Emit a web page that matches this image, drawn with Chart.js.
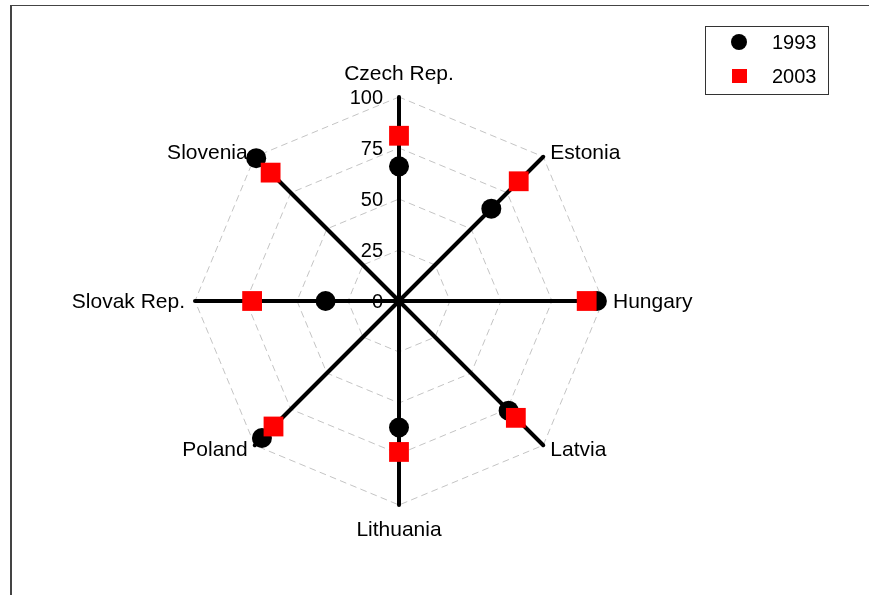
<!DOCTYPE html>
<html>
<head>
<script src="https://cdn.jsdelivr.net/npm/chart.js"></script>
<style>
  body { margin: 0; background: #fff; }
  #wrap { width: 869px; height: 595px; }
</style>
</head>

<body>
<div id="wrap">
  <canvas id="myChart" width="869" height="595"></canvas>
</div>

<script>
  const countries = ['Czech Rep.', 'Estonia', 'Hungary', 'Latvia', 'Lithuania', 'Poland', 'Slovak Rep.', 'Slovenia'];
  const values1993 = [66, 64, 97, 76, 62, 95, 36, 99];
  const values2003 = [81, 83, 92, 81, 74, 87, 72, 89];
  const tickValues = [0, 25, 50, 75, 100];
  const seriesNames = ['1993', '2003'];

  const FONT = "'Liberation Sans', Arial, sans-serif";

  // labels, ticks, legend and frame are drawn by hand
  const extras = {
    id: 'extras',
    beforeDraw(chart) {
      chart.ctx.lineCap = 'round';
    },
    afterDraw(chart) {
      const ctx = chart.ctx;
      const r = chart.scales.r;
      ctx.save();
      ctx.lineCap = 'butt';
      ctx.fillStyle = '#000';

      // tick labels
      ctx.font = '20px ' + FONT;
      ctx.textAlign = 'right';
      ctx.textBaseline = 'middle';
      tickValues.forEach(v => {
        const y = r.yCenter - r.getDistanceFromCenterForValue(v);
        ctx.fillText(String(v), r.xCenter - 16, y + 1);
      });

      // point labels
      ctx.font = '21px ' + FONT;
      countries.forEach((name, i) => {
        const a = r.getIndexAngle(i);
        const s = Math.sin(a), c = Math.cos(a);
        const p = r.getPointPosition(i, r.drawingArea + 10);
        let x = p.x, y = p.y;
        if (Math.abs(s) < 0.01) {
          ctx.textAlign = 'center';
          y += c > 0 ? -14 : 14;
        } else {
          ctx.textAlign = s > 0 ? 'left' : 'right';
          if (Math.abs(c) > 0.01) y += c > 0 ? 3 : -3;
        }
        ctx.fillText(name, x, y + 1);
      });

      // legend
      ctx.strokeStyle = '#333';
      ctx.lineWidth = 1;
      ctx.strokeRect(705.5, 26.5, 123, 68);
      ctx.fillStyle = '#000';
      ctx.beginPath();
      ctx.arc(739, 42, 8, 0, Math.PI * 2);
      ctx.fill();
      ctx.fillStyle = '#ff0000';
      ctx.fillRect(732, 69, 15, 14);
      ctx.fillStyle = '#000';
      ctx.font = '20px ' + FONT;
      ctx.textAlign = 'left';
      ctx.fillText(seriesNames[0], 772, 43);
      ctx.fillText(seriesNames[1], 772, 77);

      // frame
      ctx.strokeStyle = '#444';
      ctx.lineWidth = 2;
      ctx.beginPath();
      ctx.moveTo(11, 595);
      ctx.lineTo(11, 5.5);
      ctx.stroke();
      ctx.lineWidth = 1.2;
      ctx.beginPath();
      ctx.moveTo(10, 5.5);
      ctx.lineTo(869, 5.5);
      ctx.stroke();
      ctx.restore();
    }
  };

  new Chart(document.getElementById('myChart'), {
    type: 'radar',
    data: {
      labels: countries,
      datasets: [{
        label: seriesNames[0],
        data: values1993,
        showLine: false,
        fill: false,
        borderWidth: 0,
        borderColor: 'rgba(0,0,0,0)',
        pointStyle: 'circle',
        pointRadius: 10,
        pointBackgroundColor: '#000',
        pointBorderColor: '#000',
        pointBorderWidth: 0,
        order: 2
      }, {
        label: seriesNames[1],
        data: values2003,
        showLine: false,
        fill: false,
        borderWidth: 0,
        borderColor: 'rgba(0,0,0,0)',
        pointStyle: 'rect',
        pointRadius: 14,
        pointBackgroundColor: '#ff0000',
        pointBorderColor: '#ff0000',
        pointBorderWidth: 0,
        order: 1
      }]
    },
    options: {
      responsive: false,
      animation: false,
      layout: { padding: { left: 195, right: 266, top: 97, bottom: 90 } },
      plugins: { legend: { display: false }, tooltip: { enabled: false } },
      scales: {
        r: {
          min: 0,
          max: 100,
          ticks: { display: false, stepSize: 25 },
          pointLabels: { display: false },
          grid: { circular: false, color: '#c4c4c4', lineWidth: 1 },
          border: { dash: [6, 5] },
          angleLines: { color: '#000', lineWidth: 4 }
        }
      }
    },
    plugins: [extras]
  });
</script>
</body>
</html>
